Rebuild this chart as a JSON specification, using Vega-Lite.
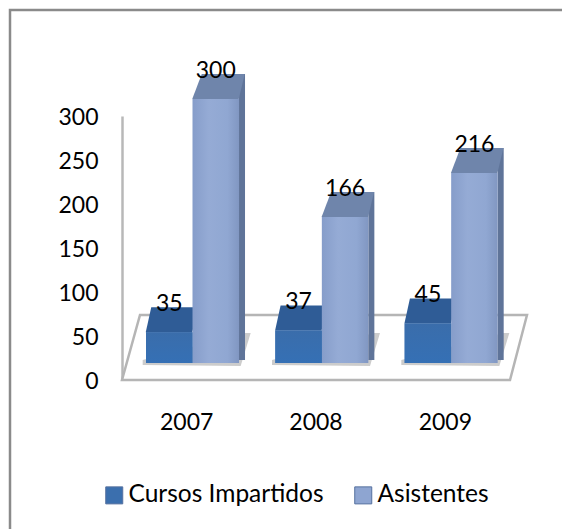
{
"$schema":"https://vega.github.io/schema/vega-lite/v6.json",
"width":560,"height":530,"autosize":"none",
"padding":{"left":10,"top":10,"right":-8,"bottom":-11},
"background":"white",
"config":{"view":{"stroke":"#8a8a8a","strokeWidth":2.5},"font":"Lato"},
"data":{"values":[
{"year":"2007","series":"Cursos Impartidos","value":35},
{"year":"2007","series":"Asistentes","value":300},
{"year":"2008","series":"Cursos Impartidos","value":37},
{"year":"2008","series":"Asistentes","value":166},
{"year":"2009","series":"Cursos Impartidos","value":45},
{"year":"2009","series":"Asistentes","value":216}
]},
"encoding":{
"x":{"field":"year","type":"nominal","title":null,"scale":{"range":[112,500],"paddingInner":0,"paddingOuter":0},
"axis":{"orient":"bottom","domain":false,"ticks":false,"labelAngle":0,"labelFontSize":23,"labelColor":"black","labelPadding":31,"offset":-160,"labelFont":"Lato"}},
"xOffset":{"field":"series","type":"nominal","scale":{"domain":["Cursos Impartidos","Asistentes"],"range":[24,117],"paddingOuter":0,"paddingInner":0}},
"y":{"field":"value","type":"quantitative","title":null,"scale":{"domain":[0,300],"range":[370,106],"nice":false},
"axis":{"values":[0,50,100,150,200,250,300],"grid":false,"ticks":false,"domainColor":"#b8b8b8","domainWidth":2.5,"labelFontSize":23,"labelColor":"black","labelPadding":24,"labelOffset":1,"offset":-112,"labelFont":"Lato"}}
},
"layer":[
{"transform":[{"filter":"datum.series=='Asistentes' && datum.year=='2008'"}],
 "mark":{"type":"point","size":4,"shape":"M-194 0L194 0L211 -65L-176 -65Z"},
 "encoding":{"xOffset":null,"y":{"datum":0},"stroke":{"value":"#b5b5b5"},"fill":{"value":"#ffffff"},"strokeWidth":{"value":2.5},"opacity":{"value":1}}},
{"transform":[{"filter":"datum.series=='Asistentes'"}],
 "mark":{"type":"point","filled":true,"size":4,"fill":"#8f8f8f","opacity":0.45,"shape":"M-44 -20L-44 -15L54 -14L64 -47L58 -47Z"},
 "encoding":{"xOffset":null,"y":{"datum":0}}},
{"transform":[{"filter":"datum.series=='Cursos Impartidos'"}],
 "mark":{"type":"point","filled":true,"size":4,"fill":"#2f5c96","opacity":1,"yOffset":-17,"shape":"M-23.5 0L23 0L29 -25L-18 -25Z"}},
{"transform":[{"filter":"datum.series=='Cursos Impartidos'"}],
 "mark":{"type":"bar","yOffset":-17,"y2Offset":-17},
 "encoding":{"y2":{"datum":0},"color":{"field":"series","type":"nominal","title":null,
   "scale":{"domain":["Cursos Impartidos","Asistentes"],"range":["#3b6fae","#8ea5d1"]},
   "legend":{"orient":"none","legendX":92,"legendY":473,"direction":"horizontal","columns":2,"symbolType":"square","symbolSize":290,"symbolStrokeWidth":1,"symbolStrokeColor":"#56719f","labelFontSize":24.5,"labelColor":"black","labelFont":"Lato","labelLimit":400,"columnPadding":27,"labelOffset":2}}}},
{"transform":[{"filter":"datum.series=='Asistentes'"}],
 "mark":{"type":"rule","color":"#5f7499","strokeWidth":6,"yOffset":-42,"y2Offset":-20},
 "encoding":{"xOffset":null,"x":{"field":"year","type":"nominal","bandPosition":0.928},"y2":{"datum":0}}},
{"transform":[{"filter":"datum.series=='Asistentes'"}],
 "mark":{"type":"point","filled":true,"size":4,"fill":"#6f85ab","opacity":1,"yOffset":-17,"shape":"M-23.5 0L23 0L29 -25L-14 -25Z"}},
{"transform":[{"filter":"datum.series=='Asistentes'"}],
 "mark":{"type":"bar","yOffset":-17,"y2Offset":-17,"fill":{"gradient":"linear","x1":0,"y1":0,"x2":1,"y2":0,"stops":[{"offset":0,"color":"#869dca"},{"offset":0.35,"color":"#95abd5"},{"offset":0.75,"color":"#90a7d2"},{"offset":1,"color":"#8197c2"}]}},
 "encoding":{"y2":{"datum":0}}},
{"transform":[{"filter":"datum.series=='Cursos Impartidos'"}],
 "mark":{"type":"bar","yOffset":-17,"y2Offset":-17,"fill":{"gradient":"linear","x1":0,"y1":0,"x2":0,"y2":1,"stops":[{"offset":0,"color":"#3a6dab"},{"offset":1,"color":"#3570b5"}]}},
 "encoding":{"y2":{"datum":0}}},
{"transform":[{"filter":"datum.series=='Asistentes'"}],
 "mark":{"type":"text","fontSize":23,"font":"Lato","color":"black","baseline":"middle","yOffset":-45},
 "encoding":{"text":{"field":"value","type":"quantitative"}}},
{"transform":[{"filter":"datum.series=='Cursos Impartidos'"}],
 "mark":{"type":"text","fontSize":23,"font":"Lato","color":"black","baseline":"middle","yOffset":-45},
 "encoding":{"text":{"field":"value","type":"quantitative"}}}
]
}
